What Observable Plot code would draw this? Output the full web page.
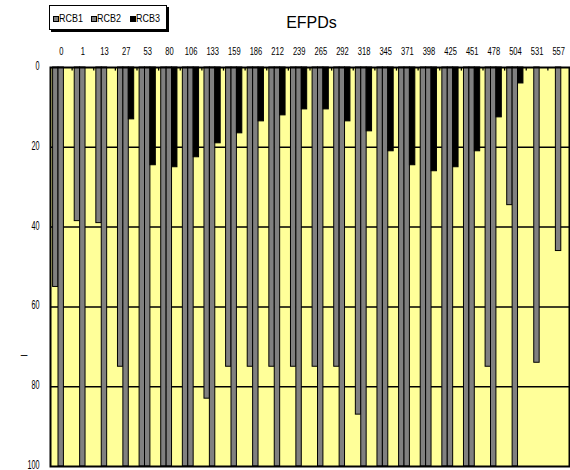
<!DOCTYPE html>
<html>
<head>
<meta charset="utf-8">
<script src="https://cdn.jsdelivr.net/npm/d3@7"></script>
<script src="https://cdn.jsdelivr.net/npm/@observablehq/plot@0.6"></script>
<style>
  html, body { margin: 0; padding: 0; background: #fff; }
  #chart { position: relative; width: 570px; height: 470px; font-family: "Liberation Sans", Arial, sans-serif; }
  #chart svg { position: absolute; left: 0; top: 0; }
  #legend { position: absolute; left: 49px; top: 5px; width: 118px; height: 25px; box-sizing: border-box;
            border: 1.5px solid #000; box-shadow: 2px 2px 0 #000; background: #fff; }
  #legend .sw { position: absolute; top: 9.5px; width: 4px; height: 4px; border: 1px solid #000; }
  #legend .lab { position: absolute; top: 4.5px; font-size: 11.5px; line-height: 14px; color: #000;
                 white-space: nowrap; transform: scaleX(0.78); transform-origin: 0 0; }
</style>
</head>
<body>
<div id="chart"><div id="legend"></div></div>
<script>
// Category labels along the top axis (EFPDs)
const categories = ["0", "1", "13", "27", "53", "80", "106", "133", "159", "186", "212", "239",
                    "265", "292", "318", "345", "371", "398", "425", "451", "478", "504", "531", "557"];
const seriesNames = ["RCB1", "RCB2", "RCB3"];
const seriesColors = ["#808080", "#808080", "#000000"];

// Values per category (null = no bar)
const rcb1 = [55, 38.5, 39, 75, 100, 100, 100, 83, 75, 75, 75, 75,
              75, 75, 87, 100, 100, 100, 100, 100, 75, 34.5, null, null];
const rcb2 = [100, 100, 100, 100, 100, 100, 100, 100, 100, 100, 100, 100,
              100, 100, 100, 100, 100, 100, 100, 100, 100, 100, 74, 46];
const rcb3 = [null, null, null, 13, 24.5, 25, 22.5, 19, 16.5, 13.5, 12, 10.5,
              10.5, 13.5, 16, 21, 24.5, 26, 25, 21, 12.5, 4, null, null];

const yTicks = [0, 20, 40, 60, 80, 100];
const gridValues = [20, 40, 60, 80];
const axisTitle = "EFPDs";
const sideMark = "–";

const columns = [rcb1, rcb2, rcb3];
const rows = categories.flatMap((cat, i) =>
  seriesNames.map((name, j) => ({i, j, cat, name, value: columns[j][i]}))
).filter(d => d.value != null);

// Each category takes one unit of x; its three bars sit side by side inside it.
const barW = 0.25, pad = 0.12;

const chart = Plot.plot({
  width: 570,
  height: 470,
  marginLeft: 50,
  marginRight: 1,
  marginTop: 67,
  marginBottom: 4,
  style: {fontFamily: "'Liberation Sans', Arial, sans-serif", fontSize: "11px", background: "transparent", color: "#000"},
  x: {type: "linear", domain: [0, categories.length], axis: null},
  y: {domain: [0, 100], reverse: true, axis: null},
  color: {domain: seriesNames, range: seriesColors},
  marks: [
    Plot.frame({fill: "#ffff99"}),
    Plot.ruleY(gridValues, {stroke: "#000", strokeWidth: 1.5}),
    Plot.rect(rows, {
      x1: d => d.i + pad + d.j * barW,
      x2: d => d.i + pad + (d.j + 1) * barW,
      y1: 0,
      y2: "value",
      fill: "name",
      stroke: "#000",
      strokeWidth: 1
    }),
    // small tick marks hanging from the top axis between categories
    Plot.ruleX(d3.range(1, categories.length), {y1: 0, y2: 0.9, stroke: "#000", strokeWidth: 1.3}),
    Plot.frame({stroke: "#000", strokeWidth: 2}),
    Plot.axisX(d3.range(categories.length).map(i => i + 0.5), {
      anchor: "top", tickSize: 0, tickPadding: 13, fontSize: 10.5, label: null,
      tickFormat: t => categories[Math.floor(t)]
    }),
    Plot.axisY(yTicks, {anchor: "left", tickSize: 0, tickPadding: 11, fontSize: 12.5, dy: -1.5, label: null}),
    Plot.text([axisTitle], {frameAnchor: "top", dy: -45, dx: 1.5, fontSize: 16, lineAnchor: "middle", ariaLabel: "title"}),
    Plot.text([sideMark], {frameAnchor: "left", textAnchor: "end", dx: -23, dy: 88, fontSize: 12, ariaLabel: "side"})
  ]
});

// Narrow the lettering horizontally, keeping each label anchored where Plot placed it
const squeeze = {"x-axis tick label": 0.72, "y-axis tick label": 0.58, "title": 0.72};
for (const [label, k] of Object.entries(squeeze)) {
  chart.querySelectorAll(`g[aria-label="${label}"] text`).forEach(t => {
    t.setAttribute("transform", (t.getAttribute("transform") || "") + ` scale(${k},1)`);
  });
}

const root = document.getElementById("chart");
root.insertBefore(chart, root.firstChild);

// Legend box
const legend = document.getElementById("legend");
seriesNames.forEach((name, j) => {
  const left = 2.5 + j * 38.5;
  const sw = document.createElement("div");
  sw.className = "sw";
  sw.style.left = left + "px";
  sw.style.background = seriesColors[j];
  legend.appendChild(sw);
  const lab = document.createElement("div");
  lab.className = "lab";
  lab.style.left = (left + 6.2) + "px";
  lab.textContent = name;
  legend.appendChild(lab);
});
</script>
</body>
</html>
